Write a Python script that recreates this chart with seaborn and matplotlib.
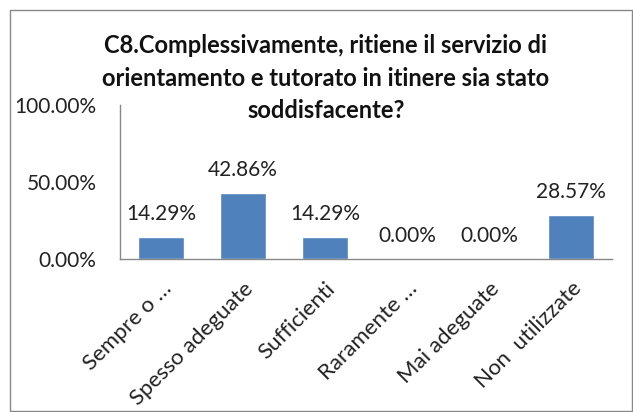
import numpy as np
import pandas as pd
import seaborn as sns
import matplotlib.pyplot as plt
from matplotlib.patches import Rectangle
from matplotlib.ticker import FuncFormatter

# data
categorie = ["Sempre o …", "Spesso adeguate", "Sufficienti", "Raramente …", "Mai adeguate", "Non  utilizzate"]
percentuali = [0.1429, 0.4286, 0.1429, 0.0, 0.0, 0.2857]
etichette = ["14.29%", "42.86%", "14.29%", "0.00%", "0.00%", "28.57%"]
titolo = "C8.Complessivamente, ritiene il servizio di\norientamento e tutorato in itinere sia stato\nsoddisfacente?"

df = pd.DataFrame({"cat": categorie, "val": percentuali})

sns.set_style("white")
plt.rcParams['font.family'] = ['Lato', 'DejaVu Sans']

fig = plt.figure(figsize=(6.33, 4.12), dpi=100)
# axes: x 120..612 px, y 105..259 px
ax = fig.add_axes([120 / 633, 1 - 259 / 412, 492 / 633, 154 / 412])

sns.barplot(x="cat", y="val", data=df, color="#4F81BD", width=0.56, ax=ax, saturation=1)

for i, (v, t) in enumerate(zip(percentuali, etichette)):
    ax.text(i, v + 0.15, t, ha="center", va="center", fontsize=15, color="#222222")

ax.set_ylim(0, 1)
ax.set_yticks([0, 0.5, 1.0])
ax.yaxis.set_major_formatter(FuncFormatter(lambda y, p: "%.2f%%" % (y * 100)))
ax.set_xlim(-0.5, len(categorie) - 0.5)
ax.set_xlabel("")
ax.set_ylabel("")
ax.tick_params(axis="y", length=0, pad=17, labelsize=15, labelcolor="#222222")
ax.tick_params(axis="x", length=0, pad=14, labelsize=16, labelcolor="#222222")
plt.setp(ax.get_xticklabels(), rotation=45, ha="right", va="top", rotation_mode="anchor")

for s in ["top", "right"]:
    ax.spines[s].set_visible(False)
for s in ["left", "bottom"]:
    ax.spines[s].set_color("#888888")
    ax.spines[s].set_linewidth(1)

fig.text(0.515, 1 - 78 / 412, titolo, ha="center", va="center", fontsize=17, fontweight="bold",
         linespacing=1.5, color="#111111")

fig.patches.append(Rectangle((10 / 633, 0.002), 1 - 10 / 633 - 0.002, 1 - 10 / 412 - 0.002,
                             transform=fig.transFigure, fill=False, edgecolor="#888888", lw=1))

fig.savefig("out.png", dpi=100)
